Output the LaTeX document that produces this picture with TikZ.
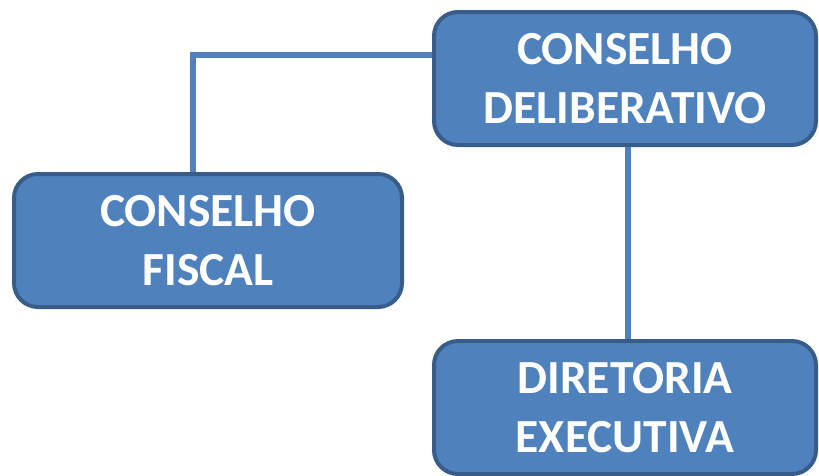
\documentclass[tikz,border=0pt]{standalone}
\usepackage{fontspec}
\setmainfont{Carlito}
\usetikzlibrary{positioning,backgrounds}
\definecolor{boxblue}{HTML}{4F81BD}
\definecolor{boxedge}{HTML}{385D8A}
\begin{document}
\begin{tikzpicture}[x=1pt,y=-1pt]
            \tikzset{
                orgbox/.style={draw=boxedge,line width=4pt,fill=boxblue,rounded corners=24pt,
                    minimum width=382pt,minimum height=133pt,align=center,text=white,
                    font=\fontsize{47.5}{59}\selectfont\bfseries},
                link/.style={draw=boxblue,line width=6pt},
                linkshadow/.style={draw=black!25,line width=6pt,shift={(2pt,-2pt)}},}
            \useasboundingbox (0,0) rectangle (819,475);
            \node[orgbox] (delib) at (625,78.5) {CONSELHO\\DELIBERATIVO};
            \node[orgbox,minimum width=388pt] (fiscal) at (208,240.5) {CONSELHO\\FISCAL};
            \node[orgbox] (diretoria) at (625,407.5) {DIRETORIA\\EXECUTIVA};
            \begin{scope}[on background layer]
                \path[linkshadow] ([yshift=23.5pt]delib.west) -| ([xshift=-15pt]fiscal.north);
                \path[linkshadow] ([xshift=3pt]delib.south) -- ([xshift=3pt]diretoria.north);
                \path[link] ([yshift=23.5pt]delib.west) -| ([xshift=-15pt]fiscal.north);
                \path[link] ([xshift=3pt]delib.south) -- ([xshift=3pt]diretoria.north);
            \end{scope}
        \end{tikzpicture}
\end{document}
